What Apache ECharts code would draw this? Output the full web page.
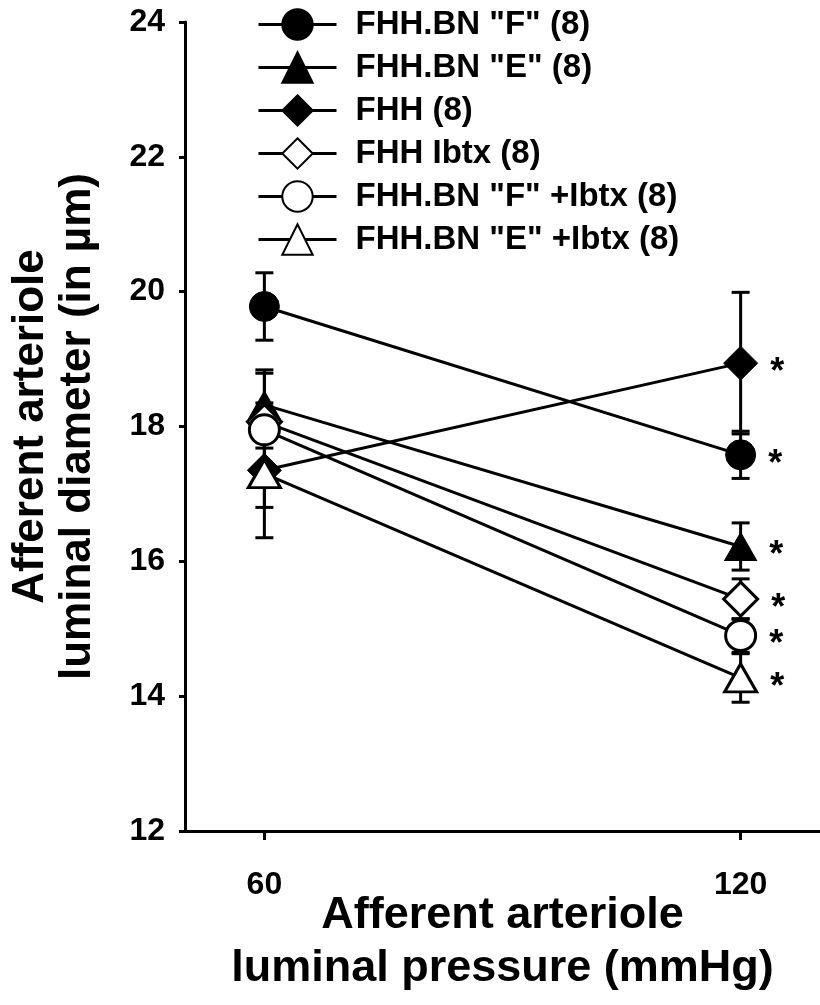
<!DOCTYPE html>
<html>
<head>
<meta charset="utf-8">
<script src="https://cdn.jsdelivr.net/npm/echarts@6/dist/echarts.min.js"></script>
<style>
  html, body { margin: 0; padding: 0; background: #fff; }
  #main { width: 820px; height: 1005px; }
</style>
</head>
<body>
<div id="main"></div>
<script>
// luminal pressure (mmHg)
var pressure = [60, 120];

// mean diameter (um) per group
var fhhbnF = [19.78, 17.58];
var fhhbnE = [18.32, 16.22];
var fhh = [17.35, 18.94];
var fhhIbtx = [18.07, 15.44];
var fhhbnFIbtx = [17.95, 14.9];
var fhhbnEIbtx = [17.3, 14.27];

// SEM per group
var semF = [0.5, 0.35];
var semE = [0.52, 0.35];
var semFHH = [1.0, 1.05];
var semFHHIbtx = [0.72, 0.3];
var semFIbtx = [0.27, 0.25];
var semEIbtx = [0.5, 0.36];

// asterisk shown at 120
var sigMark = ["", "*"];

var yTicks = [12, 14, 16, 18, 20, 22, 24];

var FONT = "Liberation Sans, Arial, sans-serif";

var myChart = echarts.init(document.getElementById("main"));

function pts(vals) {
  return pressure.map(function (p, i) { return [p, vals[i]]; });
}

function errData(vals, sem) {
  return pressure.map(function (p, i) { return [p, vals[i] - sem[i], vals[i] + sem[i]]; });
}

// error bars drawn under markers
function errSeries(vals, sem) {
  return {
    type: "custom",
    z: 1,
    silent: true,
    data: errData(vals, sem),
    renderItem: function (params, api) {
      var x = api.value(0);
      var lo = api.coord([x, api.value(1)]);
      var hi = api.coord([x, api.value(2)]);
      var w = 9;
      var st = { stroke: "#000", lineWidth: 3 };
      return {
        type: "group",
        children: [
          { type: "line", shape: { x1: lo[0], y1: lo[1], x2: hi[0], y2: hi[1] }, style: st },
          { type: "line", shape: { x1: lo[0] - w, y1: lo[1], x2: lo[0] + w, y2: lo[1] }, style: st },
          { type: "line", shape: { x1: hi[0] - w, y1: hi[1], x2: hi[0] + w, y2: hi[1] }, style: st }
        ]
      };
    }
  };
}

function lineSeries(name, vals, symbol, size, filled) {
  return {
    name: name,
    type: "line",
    z: 3,
    data: pts(vals),
    symbol: symbol,
    symbolSize: size,
    showAllSymbol: true,
    lineStyle: { color: "#000", width: 3 },
    itemStyle: {
      color: filled ? "#000" : "#fff",
      borderColor: "#000",
      borderWidth: filled ? 1 : 3
    },
    label: {
      show: true,
      position: "right",
      distance: 12,
      offset: [0, 10],
      color: "#000",
      fontFamily: FONT,
      fontWeight: "bold",
      fontSize: 36,
      formatter: function (p) { return sigMark[p.dataIndex]; }
    },
    emphasis: { disabled: true }
  };
}

var option = {
  animation: false,
  backgroundColor: "#fff",
  grid: { left: 185, right: 0, top: 22, bottom: 174, outerBoundsMode: "none", containLabel: false },
  legend: {
    orient: "vertical",
    left: 252,
    top: 3,
    itemWidth: 78,
    itemHeight: 38,
    itemGap: 10,
    lineStyle: { width: 3, color: "#000" },
    textStyle: {
      color: "#000",
      fontFamily: FONT,
      fontWeight: "bold",
      fontSize: 33,
      padding: [0, 0, 0, 14]
    },
    data: ['FHH.BN "F" (8)', 'FHH.BN "E" (8)', "FHH (8)", "FHH Ibtx (8)", 'FHH.BN "F" +Ibtx (8)', 'FHH.BN "E" +Ibtx (8)']
  },
  xAxis: {
    type: "value",
    min: 50,
    max: 130,
    name: "Afferent arteriole\nluminal pressure (mmHg)",
    nameLocation: "middle",
    nameGap: 58,
    nameMoveOverlap: false,
    nameTextStyle: {
      color: "#000",
      fontFamily: FONT,
      fontWeight: "bold",
      fontSize: 45,
      lineHeight: 53,
      verticalAlign: "top"
    },
    splitLine: { show: false },
    axisLine: { lineStyle: { color: "#000", width: 3 } },
    axisTick: { customValues: pressure, length: 9, lineStyle: { color: "#000", width: 3 } },
    axisLabel: {
      customValues: pressure,
      margin: 38,
      color: "#000",
      fontFamily: FONT,
      fontWeight: "bold",
      fontSize: 32
    }
  },
  yAxis: {
    type: "value",
    min: 12,
    max: 24,
    interval: 2,
    name: "Afferent arteriole\nluminal diameter (in µm)",
    nameLocation: "middle",
    nameRotate: 90,
    nameGap: 84,
    nameMoveOverlap: false,
    nameTextStyle: {
      color: "#000",
      fontFamily: FONT,
      fontWeight: "bold",
      fontSize: 44,
      lineHeight: 47
    },
    splitLine: { show: false },
    axisLine: { lineStyle: { color: "#000", width: 3 } },
    axisTick: { length: 6, lineStyle: { color: "#000", width: 3 } },
    axisLabel: {
      margin: 20,
      color: "#000",
      fontFamily: FONT,
      fontWeight: "bold",
      fontSize: 32,
      formatter: function (v) { return yTicks.indexOf(v) >= 0 ? String(v) : ""; }
    }
  },
  series: [
    errSeries(fhhbnF, semF),
    errSeries(fhhbnE, semE),
    errSeries(fhh, semFHH),
    errSeries(fhhIbtx, semFHHIbtx),
    errSeries(fhhbnFIbtx, semFIbtx),
    errSeries(fhhbnEIbtx, semEIbtx),
    lineSeries('FHH.BN "F" (8)', fhhbnF, "circle", 30, true),
    lineSeries('FHH.BN "E" (8)', fhhbnE, "triangle", [32, 28], true),
    lineSeries("FHH (8)", fhh, "diamond", 34, true),
    lineSeries("FHH Ibtx (8)", fhhIbtx, "diamond", 34, false),
    lineSeries('FHH.BN "F" +Ibtx (8)', fhhbnFIbtx, "circle", 30, false),
    lineSeries('FHH.BN "E" +Ibtx (8)', fhhbnEIbtx, "triangle", [32, 28], false)
  ]
};

myChart.setOption(option);
</script>
</body>
</html>
